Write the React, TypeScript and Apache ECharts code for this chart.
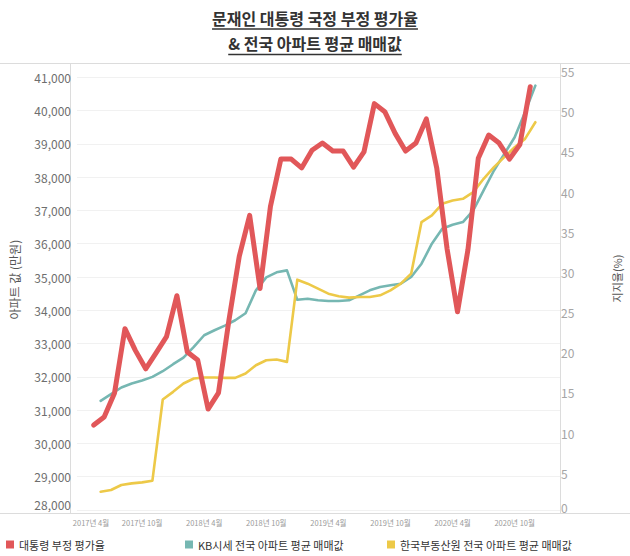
import React, { useEffect, useRef } from 'react';
import * as echarts from 'echarts';

const FONT = "'Noto Sans CJK KR', 'Noto Sans', sans-serif";

const titleLines = ['문재인 대통령 국정 부정 평가율', '& 전국 아파트 평균 매매값'];

const months = [
  '2017-06', '2017-07', '2017-08', '2017-09', '2017-10', '2017-11', '2017-12',
  '2018-01', '2018-02', '2018-03', '2018-04', '2018-05', '2018-06', '2018-07', '2018-08', '2018-09', '2018-10', '2018-11', '2018-12',
  '2019-01', '2019-02', '2019-03', '2019-04', '2019-05', '2019-06', '2019-07', '2019-08', '2019-09', '2019-10', '2019-11', '2019-12',
  '2020-01', '2020-02', '2020-03', '2020-04', '2020-05', '2020-06', '2020-07', '2020-08', '2020-09', '2020-10', '2020-11', '2020-12',
];

// 대통령 부정 평가율 (%)
const disapproval = [
  11, 12, 15, 23, 20.3, 18, 20, 22, 27.1, 20.1, 19.1, 13, 15,
  24, 32, 37.1, 28, 38.2, 44.1, 44.1, 43, 45.2, 46.1, 45.1, 45.1, 43.1, 45,
  51, 50, 47.3, 45.1, 46.1, 49.1, 43, 32.9, 25.1, 32.8, 44.2, 47.1, 46.1, 44.1, 45.9, 53.1,
];

// KB시세 전국 아파트 평균 매매값 (만원)
const kbPrice = [
  31280, 31480, 31680, 31800, 31890, 32000, 32170, 32380, 32580, 32900, 33250, 33400, 33540,
  33700, 33910, 34600, 34990, 35140, 35200, 34315, 34345, 34300, 34280, 34280, 34300, 34450, 34600,
  34700, 34750, 34800, 35000, 35400, 36000, 36450, 36570, 36650, 37000, 37600, 38200, 38700, 39200, 39950, 40750,
];

// 한국부동산원 전국 아파트 평균 매매값 (만원)
const rebPrice = [
  28550, 28600, 28750, 28800, 28830, 28880, 31320, 31550, 31800, 31950, 31980, 31980, 31970,
  31970, 32100, 32350, 32500, 32520, 32450, 34920, 34800, 34650, 34500, 34420, 34380, 34400, 34400,
  34450, 34600, 34800, 35100, 36650, 36850, 37200, 37300, 37350, 37550, 37950, 38300, 38600, 38900, 39150, 39650,
];

const tickMonths = ['2017-04', '2017-10', '2018-04', '2018-10', '2019-04', '2019-10', '2020-04', '2020-10'];
const tickLabels = ['2017년 4월', '2017년 10월', '2018년 4월', '2018년 10월', '2019년 4월', '2019년 10월', '2020년 4월', '2020년 10월'];

const seriesNames = ['대통령 부정 평가율', 'KB시세 전국 아파트 평균 매매값', '한국부동산원 전국 아파트 평균 매매값'];
const colors = ['#E15759', '#76B7B2', '#EDC948'];

const monthIndex = (m: string) => {
  const [y, mo] = m.split('-').map(Number);
  return (y - 2017) * 12 + (mo - 4);
};

function textWidth(text: string, fontSize: number, fontWeight: string) {
  const t = new (echarts.graphic as any).Text({ style: { text, fontSize, fontWeight, fontFamily: FONT } });
  return t.getBoundingRect().width;
}

export default function App() {
  const ref = useRef<HTMLDivElement>(null);
  useEffect(() => {
    if (!ref.current) return;
    const chart = echarts.init(ref.current, null, { renderer: 'svg' });
    const xVals = months.map(monthIndex);
    const tickVals = tickMonths.map(monthIndex);
    const TS = 16;
    const w1 = textWidth(titleLines[0], TS, 'bold');
    const w2 = textWidth(titleLines[1], TS, 'bold');
    const cx = 315;
    const frame = '#dcdcdc';
    const xAxisBase = {
      type: 'value',
      min: -0.286,
      max: 46.38,
      axisLine: { show: false },
      axisTick: { show: false },
      splitLine: { show: false },
    };
    const legendBase = {
      icon: 'rect',
      itemWidth: 8,
      itemHeight: 8,
      itemGap: 10,
      padding: 0,
      top: 539,
      textStyle: { fontSize: 11, color: '#333', fontFamily: FONT },
    };
    chart.setOption({
      animation: false,
      textStyle: { fontFamily: FONT },
      grid: [
        { left: 70, right: 70, top: 77.3, bottom: 46 },
        { left: 70, right: 70, top: 71.5, bottom: 42.5 },
      ],
      xAxis: [
        {
          ...xAxisBase,
          gridIndex: 0,
          axisLabel: {
            customValues: tickVals,
            fontSize: 7.5,
            color: '#9a9a9a',
            margin: 9,
            formatter: (v: number) => {
              const i = tickVals.indexOf(Math.round(v));
              if (i < 0) return '';
              return i === 0 ? '{first|' + tickLabels[i] + '}' : tickLabels[i];
            },
            rich: { first: { fontSize: 7.5, color: '#9a9a9a', padding: [0, 0, 0, 22] } },
          },
        },
        { ...xAxisBase, gridIndex: 1, axisLabel: { show: false } },
      ],
      yAxis: [
        {
          type: 'value',
          gridIndex: 0,
          position: 'left',
          min: 28000,
          max: 41000,
          interval: 1000,
          name: '아파트 값 (만원)',
          nameLocation: 'middle',
          nameGap: 57,
          nameTextStyle: { fontSize: 12, color: '#555', padding: [0, 0, 0, 28] },
          axisLine: { show: false },
          axisTick: { show: false },
          splitLine: { lineStyle: { color: '#f1f1f1', width: 1 } },
          axisLabel: {
            fontSize: 12,
            color: '#6e6e6e',
            margin: 6,
            verticalAlignMinLabel: 'bottom',
            formatter: (v: number) => v.toLocaleString('en-US'),
          },
        },
        {
          type: 'value',
          gridIndex: 1,
          position: 'right',
          min: 0,
          max: 55,
          interval: 5,
          name: '지지율(%)',
          nameLocation: 'middle',
          nameRotate: 90,
          nameGap: 56,
          nameTextStyle: { fontSize: 11, color: '#555', padding: [0, 0, 0, 28] },
          axisLine: { show: false },
          axisTick: { show: false },
          splitLine: { show: false },
          axisLabel: {
            fontSize: 12,
            color: '#a5a5a5',
            margin: 6,
            verticalAlignMinLabel: 'bottom',
          },
        },
      ],
      legend: [
        { ...legendBase, left: 6, data: [seriesNames[0]] },
        { ...legendBase, left: 185, data: [seriesNames[1]] },
        { ...legendBase, left: 387, data: [seriesNames[2]] },
      ],
      graphic: [
        {
          type: 'text', x: cx, y: 18,
          style: { text: titleLines[0], fontSize: TS, fontWeight: 'bold', fill: '#333', align: 'center', verticalAlign: 'middle', fontFamily: FONT },
        },
        { type: 'line', shape: { x1: cx - w1 / 2, y1: 29, x2: cx + w1 / 2, y2: 29 }, style: { stroke: '#333', lineWidth: 1.3 } },
        {
          type: 'text', x: cx, y: 43,
          style: { text: titleLines[1], fontSize: TS, fontWeight: 'bold', fill: '#333', align: 'center', verticalAlign: 'middle', fontFamily: FONT },
        },
        { type: 'line', shape: { x1: cx - w2 / 2, y1: 54.5, x2: cx + w2 / 2, y2: 54.5 }, style: { stroke: '#333', lineWidth: 1.3 } },
        { type: 'line', shape: { x1: 0, y1: 63.5, x2: 630, y2: 63.5 }, style: { stroke: frame, lineWidth: 1 } },
        { type: 'line', shape: { x1: 0, y1: 513.5, x2: 630, y2: 513.5 }, style: { stroke: frame, lineWidth: 1 } },
        { type: 'line', shape: { x1: 70.5, y1: 63.5, x2: 70.5, y2: 513.5 }, style: { stroke: frame, lineWidth: 1 } },
        { type: 'line', shape: { x1: 560.5, y1: 63.5, x2: 560.5, y2: 513.5 }, style: { stroke: frame, lineWidth: 1 } },
      ],
      series: [
        {
          name: seriesNames[1], type: 'line', xAxisIndex: 0, yAxisIndex: 0,
          data: xVals.map((x, i) => [x, kbPrice[i]]),
          symbol: 'none', color: colors[1],
          lineStyle: { width: 2.6, color: colors[1], join: 'round', cap: 'round' },
          z: 2,
        },
        {
          name: seriesNames[2], type: 'line', xAxisIndex: 0, yAxisIndex: 0,
          data: xVals.map((x, i) => [x, rebPrice[i]]),
          symbol: 'none', color: colors[2],
          lineStyle: { width: 2.6, color: colors[2], join: 'round', cap: 'round' },
          z: 3,
        },
        {
          name: seriesNames[0], type: 'line', xAxisIndex: 1, yAxisIndex: 1,
          data: xVals.map((x, i) => [x, disapproval[i]]),
          symbol: 'none', color: colors[0],
          lineStyle: { width: 5, color: colors[0], join: 'round', cap: 'round' },
          z: 4,
        },
      ],
    });
    return () => chart.dispose();
  }, []);
  return <div ref={ref} style={{ width: 630, height: 556, position: 'absolute', left: 0, top: 0 }} />;
}
